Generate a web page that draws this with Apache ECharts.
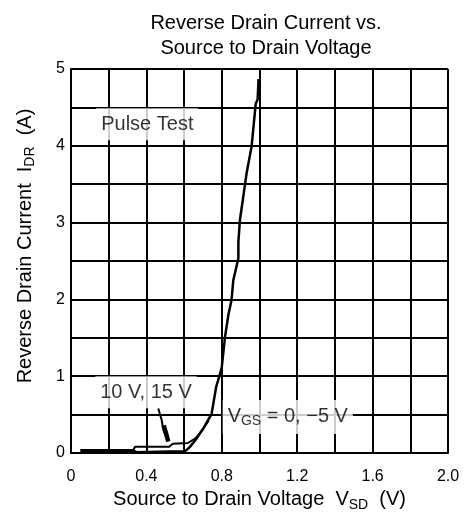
<!DOCTYPE html>
<html>
<head>
<meta charset="utf-8">
<script src="https://cdn.jsdelivr.net/npm/echarts@6/dist/echarts.min.js"></script>
<style>html,body{margin:0;padding:0;background:#fff;}#c{width:467px;height:523px;}</style>
</head>
<body>
<div id="c"></div>
<script>
// ---- data ----
const xTicks = [0, 0.4, 0.8, 1.2, 1.6, 2.0];
const yTicks = [0, 1, 2, 3, 4, 5];
// V_GS = 0, -5 V curve
const vgs0X = [0.05, 0.33, 0.35, 0.52, 0.60, 0.614, 0.631, 0.667, 0.702, 0.746, 0.77, 0.787, 0.80, 0.817, 0.835, 0.852, 0.861, 0.888, 0.888, 0.896, 0.914, 0.932, 0.958, 0.98, 0.99, 0.995];
const vgs0Y = [0.03, 0.03, 0.01, 0.02, 0.02, 0.04, 0.08, 0.19, 0.32, 0.51, 0.86, 1.0, 1.12, 1.51, 1.80, 2.0, 2.25, 2.535, 2.75, 3.03, 3.34, 3.65, 3.99, 4.55, 4.6, 4.87];
// V_GS = 10 V, 15 V curve
const vgs10X = [0.05, 0.33, 0.34, 0.52, 0.54, 0.62, 0.66, 0.70, 0.73];
const vgs10Y = [0.04, 0.04, 0.08, 0.08, 0.12, 0.13, 0.19, 0.31, 0.42];
// leader line from "10 V, 15 V" label
const leaderX = [0.463, 0.481, 0.49, 0.516];
const leaderY = [0.58, 0.43, 0.30, 0.15];
// thicker arrow part of the leader
const arrowX = [0.492, 0.505, 0.516];
const arrowY = [0.36, 0.25, 0.15];
// annotation texts
const noteText = ['Pulse Test', '10 V, 15 V', '{n|V}{sub|GS}{n| = 0, \u22125 V}'];
const noteX = [0.405, 0.398, 1.150];
const noteY = [4.28, 0.79, 0.47];

const FONT = '"Liberation Sans", Arial, Helvetica, sans-serif';
const zip = (a, b) => a.map((v, i) => [v, b[i]]);

const chart = echarts.init(document.getElementById('c'), null, {renderer: 'canvas'});
chart.setOption({
  backgroundColor: '#fff',
  animation: false,
  title: {
    text: 'Reverse Drain Current vs.\nSource to Drain Voltage',
    left: 261, top: 6, textAlign: 'center',
    textStyle: {fontFamily: FONT, fontSize: 20, fontWeight: 'normal', color: '#000', lineHeight: 25}
  },
  grid: {left: 71, right: 19, top: 69, bottom: 70, show: false},
  xAxis: {
    type: 'value', min: 0, max: 2, interval: 0.2,
    name: '{n|Source to Drain Voltage  V}{sub|SD}{n|  (V)}',
    nameLocation: 'middle', nameGap: 32,
    nameTextStyle: {
      rich: {
        n: {fontFamily: FONT, fontSize: 20, color: '#000', lineHeight: 24},
        sub: {fontFamily: FONT, fontSize: 14, color: '#000', verticalAlign: 'bottom', lineHeight: 14, padding: [6, 0, 0, 0]}
      }
    },
    axisLine: {show: true, lineStyle: {color: '#000', width: 2}},
    axisTick: {show: false},
    axisLabel: {
      margin: 16, fontFamily: FONT, fontSize: 16, color: '#000',
      formatter: v => {
        const hit = xTicks.find(t => Math.abs(t - v) < 1e-6);
        if (hit === undefined) return '';
        return hit === 0 ? '0' : hit.toFixed(1);
      }
    },
    splitLine: {show: true, lineStyle: {color: '#000', width: 2}}
  },
  yAxis: {
    type: 'value', min: 0, max: 5, interval: 0.5,
    name: '{n|Reverse Drain Current  I}{sub|DR}{n|  (A)}',
    nameLocation: 'middle', nameGap: 34, nameRotate: 90,
    nameTextStyle: {
      padding: [0, 0, 0, 30],
      rich: {
        n: {fontFamily: FONT, fontSize: 20, color: '#000', lineHeight: 24},
        sub: {fontFamily: FONT, fontSize: 14, color: '#000', verticalAlign: 'bottom', lineHeight: 14, padding: [6, 0, 0, 0]}
      }
    },
    axisLine: {show: true, lineStyle: {color: '#000', width: 2}},
    axisTick: {show: false},
    axisLabel: {
      margin: 6, fontFamily: FONT, fontSize: 16, color: '#000',
      formatter: v => {
        const hit = yTicks.find(t => Math.abs(t - v) < 1e-6);
        return hit === undefined ? '' : String(hit);
      }
    },
    splitLine: {show: true, lineStyle: {color: '#000', width: 2}}
  },
  series: [
    {
      name: 'notes', type: 'scatter', symbolSize: 0, z: 3,
      data: noteX.map((x, i) => ({value: [x, noteY[i]], text: noteText[i]})),
      label: {
        show: true, position: 'inside',
        formatter: p => p.data.text,
        fontFamily: FONT, fontSize: 20, color: '#000',
        backgroundColor: '#fff', padding: [6, 5],
        rich: {
          n: {fontFamily: FONT, fontSize: 20, color: '#000', lineHeight: 22},
          sub: {fontFamily: FONT, fontSize: 14, color: '#000', verticalAlign: 'bottom', lineHeight: 14, padding: [6, 0, 0, 0]}
        }
      }
    },
    {
      name: 'VGS 10 V, 15 V', type: 'line', z: 4, symbol: 'none',
      data: zip(vgs10X, vgs10Y),
      lineStyle: {color: '#000', width: 2}
    },
    {
      name: 'VGS 0, -5 V', type: 'line', z: 4, symbol: 'none',
      data: zip(vgs0X, vgs0Y),
      lineStyle: {color: '#000', width: 2.5}
    },
    {
      name: 'leader', type: 'line', z: 4, symbol: 'none',
      data: zip(leaderX, leaderY),
      lineStyle: {color: '#000', width: 2}
    },
    {
      name: 'arrow', type: 'line', z: 4, symbol: 'none',
      data: zip(arrowX, arrowY),
      lineStyle: {color: '#000', width: 4.5}
    }
  ]
});
</script>
</body>
</html>
